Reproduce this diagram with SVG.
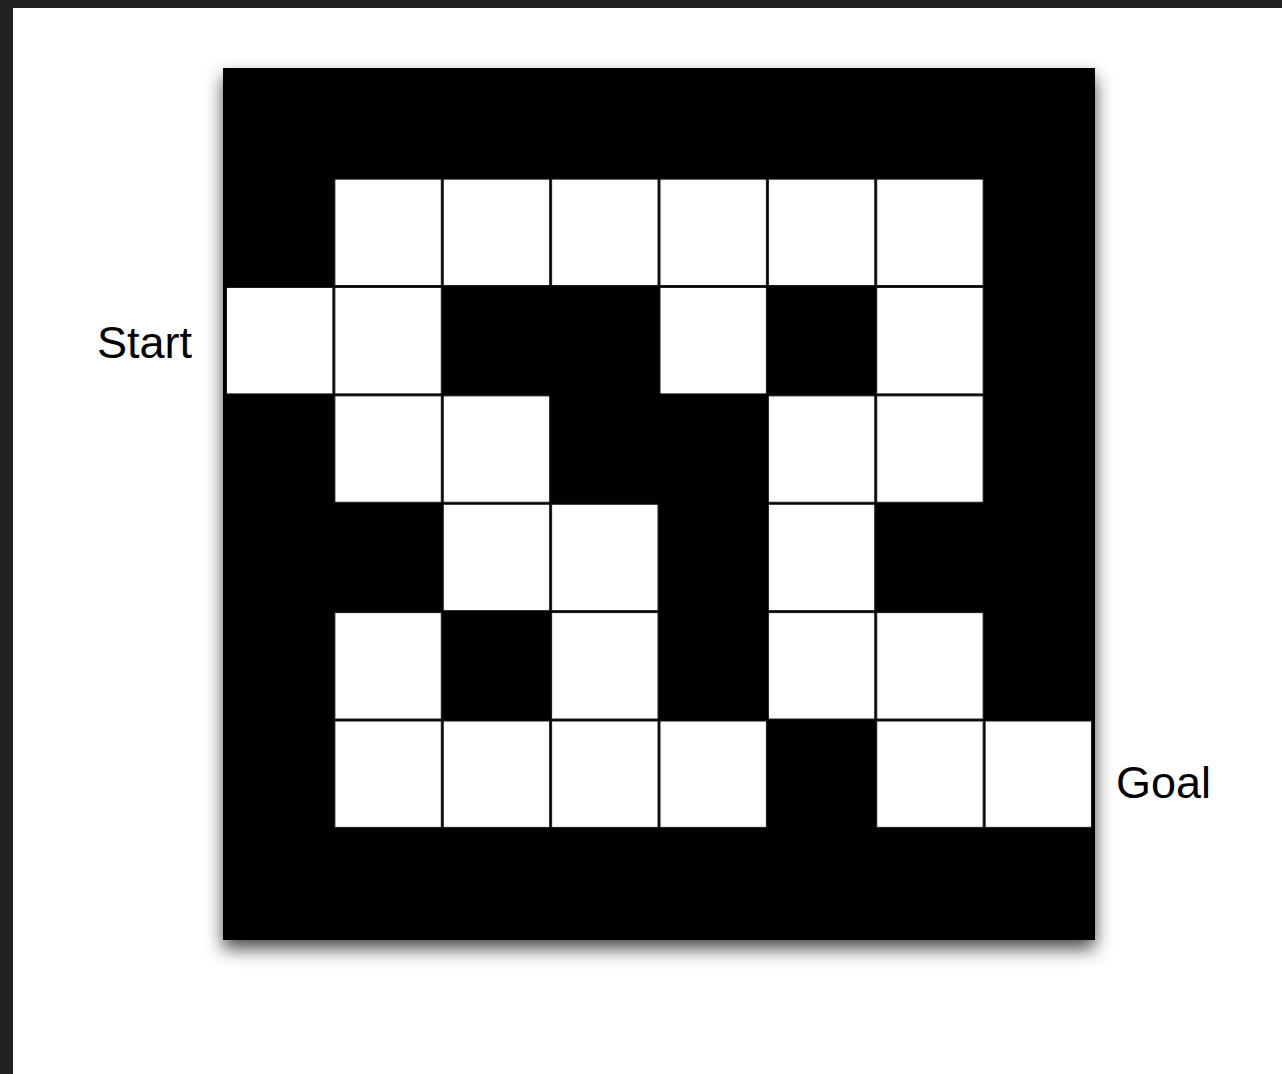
<svg xmlns="http://www.w3.org/2000/svg" width="1282" height="1074" viewBox="0 0 1282 1074">
<defs>
<style>
.w{fill:#fff;stroke:#1a1a1a;stroke-width:1}
.lbl{font-family:"Liberation Sans",Arial,sans-serif;font-size:45px;fill:#000}
</style>
<filter id="sh" x="-10%" y="-10%" width="120%" height="125%">
<feDropShadow dx="0" dy="9" stdDeviation="9" flood-color="#000" flood-opacity="0.7"/>
</filter>
</defs>
<rect x="0" y="0" width="1282" height="1074" fill="#222"/>
<rect x="13" y="8" width="1269" height="1066" fill="#fff"/>
<g id="maze">
<rect x="223" y="68" width="872" height="872" fill="#000" filter="url(#sh)"/>
<g id="cells" transform="translate(226.5 70.75)">
<!-- row 1 -->
<rect class="w" x="108.375" y="108.375" width="106.4" height="106.4"/>
<rect class="w" x="216.75" y="108.375" width="106.4" height="106.4"/>
<rect class="w" x="325.125" y="108.375" width="106.4" height="106.4"/>
<rect class="w" x="433.5" y="108.375" width="106.4" height="106.4"/>
<rect class="w" x="541.875" y="108.375" width="106.4" height="106.4"/>
<rect class="w" x="650.25" y="108.375" width="106.4" height="106.4"/>
<!-- row 2 -->
<rect class="w" x="0" y="216.75" width="106.4" height="106.4"/>
<rect class="w" x="108.375" y="216.75" width="106.4" height="106.4"/>
<rect class="w" x="433.5" y="216.75" width="106.4" height="106.4"/>
<rect class="w" x="650.25" y="216.75" width="106.4" height="106.4"/>
<!-- row 3 -->
<rect class="w" x="108.375" y="325.125" width="106.4" height="106.4"/>
<rect class="w" x="216.75" y="325.125" width="106.4" height="106.4"/>
<rect class="w" x="541.875" y="325.125" width="106.4" height="106.4"/>
<rect class="w" x="650.25" y="325.125" width="106.4" height="106.4"/>
<!-- row 4 -->
<rect class="w" x="216.75" y="433.5" width="106.4" height="106.4"/>
<rect class="w" x="325.125" y="433.5" width="106.4" height="106.4"/>
<rect class="w" x="541.875" y="433.5" width="106.4" height="106.4"/>
<!-- row 5 -->
<rect class="w" x="108.375" y="541.875" width="106.4" height="106.4"/>
<rect class="w" x="325.125" y="541.875" width="106.4" height="106.4"/>
<rect class="w" x="541.875" y="541.875" width="106.4" height="106.4"/>
<rect class="w" x="650.25" y="541.875" width="106.4" height="106.4"/>
<!-- row 6 -->
<rect class="w" x="108.375" y="650.25" width="106.4" height="106.4"/>
<rect class="w" x="216.75" y="650.25" width="106.4" height="106.4"/>
<rect class="w" x="325.125" y="650.25" width="106.4" height="106.4"/>
<rect class="w" x="433.5" y="650.25" width="106.4" height="106.4"/>
<rect class="w" x="650.25" y="650.25" width="106.4" height="106.4"/>
<rect class="w" x="758.625" y="650.25" width="106.4" height="106.4"/>
</g>
</g>
<g id="start"><text class="lbl" x="97" y="358">Start</text></g>
<g id="goal"><text class="lbl" x="1116" y="798">Goal</text></g>
</svg>
